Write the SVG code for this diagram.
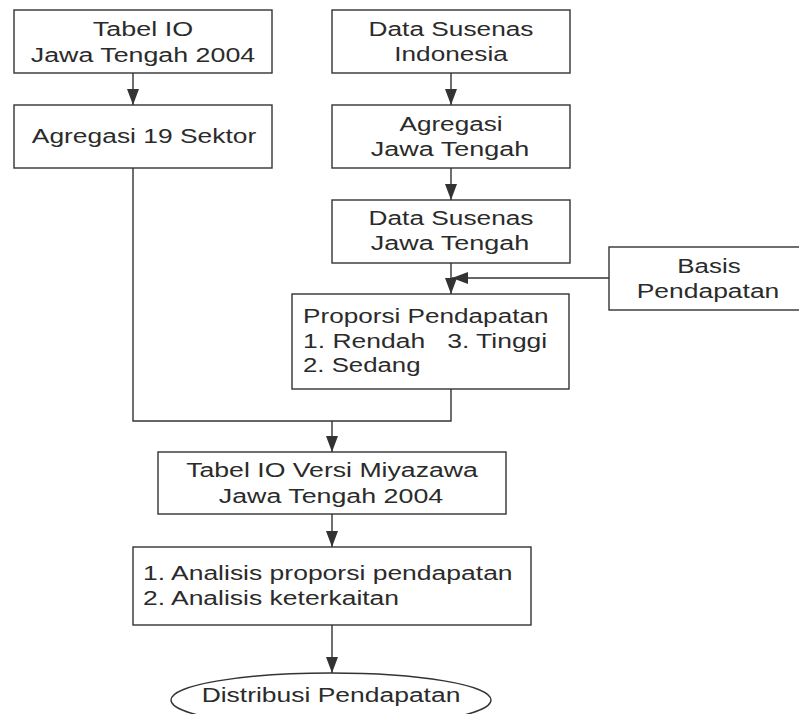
<svg xmlns="http://www.w3.org/2000/svg" width="799" height="714" viewBox="0 0 799 714">
<style>
.box{fill:#fff;stroke:#333;stroke-width:1.4}
.t{font-family:"Liberation Sans",Arial,sans-serif;font-size:20px;fill:#2b2b2b}
.c{text-anchor:middle}
.ln{fill:none;stroke:#333;stroke-width:1.4}
</style>
<defs>
<marker id="ah" viewBox="0 0 16 12" refX="16" refY="6" markerWidth="16" markerHeight="12" markerUnits="userSpaceOnUse" orient="auto">
<path d="M0,0 L16,6 L0,12 z" fill="#333"/>
</marker>
</defs>
<rect width="799" height="714" fill="#fff"/>
<g id="connectors">
<line class="ln" x1="133" y1="73" x2="133" y2="105" marker-end="url(#ah)"/>
<line class="ln" x1="451" y1="73" x2="451" y2="105" marker-end="url(#ah)"/>
<line class="ln" x1="451" y1="168" x2="451" y2="200" marker-end="url(#ah)"/>
<line class="ln" x1="451" y1="263" x2="451" y2="294" marker-end="url(#ah)"/>
<line class="ln" x1="609" y1="278" x2="452" y2="278" marker-end="url(#ah)"/>
<polyline class="ln" points="133,168 133,421 451,421 451,389"/>
<line class="ln" x1="332" y1="421" x2="332" y2="452" marker-end="url(#ah)"/>
<line class="ln" x1="332" y1="514" x2="332" y2="547" marker-end="url(#ah)"/>
<line class="ln" x1="332" y1="625" x2="332" y2="673" marker-end="url(#ah)"/>
</g>
<g id="tabel-io">
<rect class="box" x="14" y="10" width="258" height="63"/>
<text class="t c" transform="translate(143,36) scale(1.32,1)" textLength="76" lengthAdjust="spacingAndGlyphs">Tabel IO</text>
<text class="t c" transform="translate(143,62) scale(1.32,1)" textLength="170" lengthAdjust="spacingAndGlyphs">Jawa Tengah 2004</text>
</g>
<g id="agregasi-19">
<rect class="box" x="14" y="105" width="258" height="63"/>
<text class="t c" transform="translate(144,143) scale(1.32,1)" textLength="170" lengthAdjust="spacingAndGlyphs">Agregasi 19 Sektor</text>
</g>
<g id="susenas-indonesia">
<rect class="box" x="332" y="10" width="238" height="63"/>
<text class="t c" transform="translate(451,36) scale(1.32,1)" textLength="125" lengthAdjust="spacingAndGlyphs">Data Susenas</text>
<text class="t c" transform="translate(451,61) scale(1.32,1)" textLength="86" lengthAdjust="spacingAndGlyphs">Indonesia</text>
</g>
<g id="agregasi-jateng">
<rect class="box" x="332" y="105" width="238" height="63"/>
<text class="t c" transform="translate(451,131) scale(1.32,1)" textLength="78" lengthAdjust="spacingAndGlyphs">Agregasi</text>
<text class="t c" transform="translate(450,156) scale(1.32,1)" textLength="120" lengthAdjust="spacingAndGlyphs">Jawa Tengah</text>
</g>
<g id="susenas-jateng">
<rect class="box" x="332" y="200" width="238" height="63"/>
<text class="t c" transform="translate(451,225) scale(1.32,1)" textLength="125" lengthAdjust="spacingAndGlyphs">Data Susenas</text>
<text class="t c" transform="translate(450,250) scale(1.32,1)" textLength="120" lengthAdjust="spacingAndGlyphs">Jawa Tengah</text>
</g>
<g id="basis">
<rect class="box" x="609" y="247" width="200" height="63"/>
<text class="t c" transform="translate(709,273) scale(1.32,1)" textLength="48" lengthAdjust="spacingAndGlyphs">Basis</text>
<text class="t c" transform="translate(708,298) scale(1.32,1)" textLength="108" lengthAdjust="spacingAndGlyphs">Pendapatan</text>
</g>
<g id="proporsi">
<rect class="box" x="292" y="294" width="277" height="95"/>
<text class="t" transform="translate(303,323) scale(1.32,1)" textLength="186" lengthAdjust="spacingAndGlyphs">Proporsi Pendapatan</text>
<text class="t" transform="translate(303,348) scale(1.32,1)" textLength="185" lengthAdjust="spacingAndGlyphs" xml:space="preserve">1. Rendah   3. Tinggi</text>
<text class="t" transform="translate(303,372) scale(1.32,1)" textLength="89" lengthAdjust="spacingAndGlyphs">2. Sedang</text>
</g>
<g id="miyazawa">
<rect class="box" x="158" y="452" width="348" height="62"/>
<text class="t c" transform="translate(332,477) scale(1.32,1)" textLength="221" lengthAdjust="spacingAndGlyphs">Tabel IO Versi Miyazawa</text>
<text class="t c" transform="translate(331,503) scale(1.32,1)" textLength="170" lengthAdjust="spacingAndGlyphs">Jawa Tengah 2004</text>
</g>
<g id="analisis">
<rect class="box" x="133" y="547" width="398" height="78"/>
<text class="t" transform="translate(143,580) scale(1.32,1)" textLength="280" lengthAdjust="spacingAndGlyphs">1. Analisis proporsi pendapatan</text>
<text class="t" transform="translate(143,605) scale(1.32,1)" textLength="194" lengthAdjust="spacingAndGlyphs">2. Analisis keterkaitan</text>
</g>
<g id="distribusi">
<ellipse class="box" cx="331" cy="700" rx="160" ry="27"/>
<text class="t c" transform="translate(331,702) scale(1.32,1)" textLength="196" lengthAdjust="spacingAndGlyphs">Distribusi Pendapatan</text>
</g>
</svg>
